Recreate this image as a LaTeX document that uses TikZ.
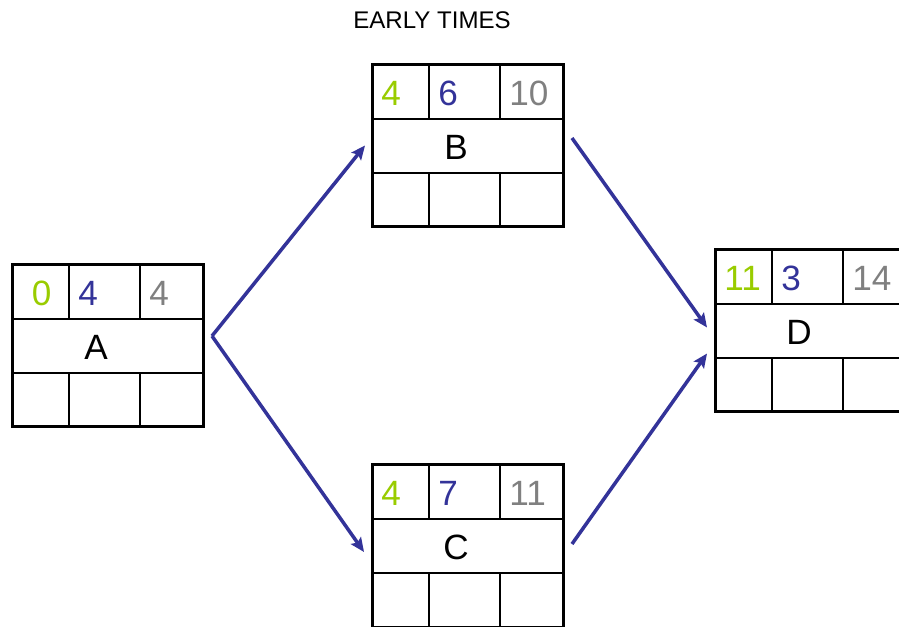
\documentclass[tikz,border=0pt]{standalone}
\usepackage{fontspec}
\setmainfont{Liberation Sans}
\usetikzlibrary{arrows.meta}

\definecolor{esgreen}{HTML}{99CC00}
\definecolor{durblue}{HTML}{333399}
\definecolor{efgray}{HTML}{808080}

\tikzset{
  actframe/.style={draw, line width=1.7pt, inner sep=0pt, outer sep=0pt,
    minimum width=3.84cm, minimum height=3.26cm},
  cellline/.style={line width=0.8pt},
  num/.style={anchor=west, inner sep=0pt, font=\fontsize{20}{22}\selectfont},
  actlabel/.style={inner sep=0pt, font=\fontsize{20}{22}\selectfont},
  flow/.style={draw=durblue, line width=2pt,
    -{Stealth[length=8pt, width=7pt, inset=1.5pt]}}
}

% #1 name, #2,#3 top left corner, #4 early start, #5 duration, #6 early finish, #7 label
\newcommand{\actbox}[7]{%
  \begin{scope}[shift={(#2,#3)}]
    \draw[cellline] (0,55) -- (192,55) (0,109) -- (192,109);
    \draw[cellline] (57,0) -- (57,55) (128,0) -- (128,55);
    \draw[cellline] (57,109) -- (57,163) (128,109) -- (128,163);
    \node[actframe] (#1) at (96,81.5) {};
    \node[num, text=esgreen] (#1-es) at (9,29) {#4};
    \node[num, text=durblue] (#1-dur) at (66,29) {#5};
    \node[num, text=efgray] (#1-ef) at (137,29) {#6};
    \node[actlabel] (#1-name) at (84,83) {#7};
  \end{scope}}

\begin{document}
\begin{tikzpicture}[x=0.02cm, y=-0.02cm]
  \useasboundingbox (0,0) rectangle (899,626);
  \node[font=\fontsize{13.7}{15}\selectfont] (title) at (432,20) {EARLY TIMES};

  \actbox{A}{12}{264}{\kern6pt 0}{4}{4}{A}
  \actbox{B}{372}{64}{4}{6}{10}{B}
  \actbox{C}{372}{464}{4}{7}{11}{C}
  \actbox{D}{715}{249}{11}{3}{14}{D}

  \coordinate (a out) at ([shift={(8,-9.5)}]A.east);
  \draw[flow] (a out) -- ([shift={(-7,0)}]B.west);
  \draw[flow] (a out) -- ([shift={(-8,6.5)}]C.west);
  \draw[flow] ([shift={(8,-7.5)}]B.east) -- ([shift={(-8,-3)}]D.west);
  \draw[flow] ([shift={(8,-1.5)}]C.east) -- ([shift={(-8,23)}]D.west);
\end{tikzpicture}
\end{document}
